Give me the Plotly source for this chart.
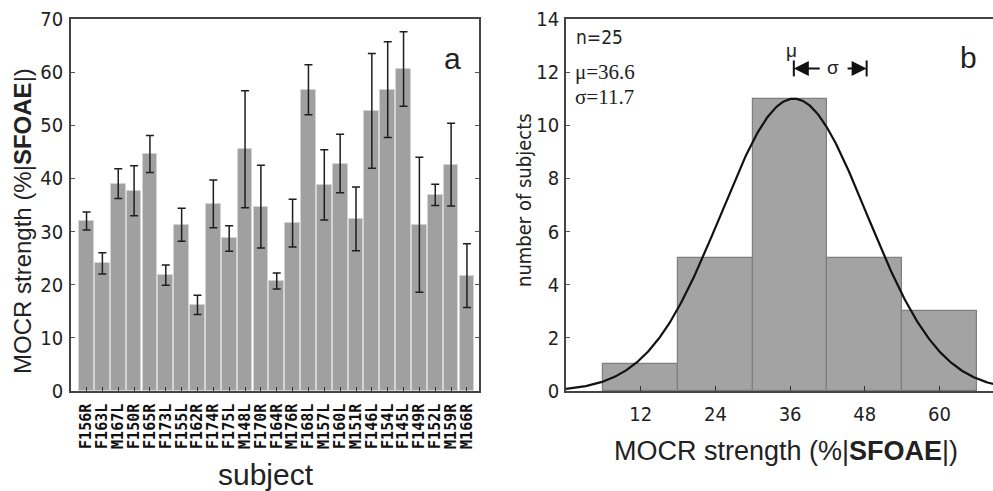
import numpy as np
import plotly.graph_objects as go

# ---- data: panel a ----
subjects = ["F156R", "F163L", "M167L", "F150R", "F165R", "F173L", "F155L", "F162R",
            "F174R", "F175L", "M148L", "F170R", "F164R", "M176R", "F168L", "M157L",
            "F160L", "M151R", "F146L", "F154L", "F145L", "F149R", "F152L", "M159R", "M166R"]
mocr = [32.0, 24.0, 39.0, 37.7, 44.6, 21.8, 31.3, 16.2,
        35.2, 28.7, 45.5, 34.7, 20.7, 31.6, 56.7, 38.8,
        42.8, 32.4, 52.7, 56.7, 60.6, 31.3, 36.9, 42.6, 21.7]
mocr_err = [1.7, 2.0, 2.8, 4.7, 3.5, 1.9, 3.1, 1.8,
            4.5, 2.4, 11.0, 7.8, 1.5, 4.5, 4.7, 6.6,
            5.5, 6.0, 10.8, 9.0, 7.0, 12.7, 2.0, 7.8, 6.0]

# ---- data: panel b ----
bin_centers = [12, 24, 36, 48, 60]
bin_counts = [1, 5, 11, 5, 3]
bin_width = 12
n_subj = 25
mu = 36.6
sigma = 11.7
curve_peak = 11.0

W, H = 993, 491
L_TOP, L_BOT = 19, 391
PH = L_BOT - L_TOP

def px(x):
    return x / W

def py(y):
    return (L_BOT - y) / PH

pos = list(range(len(subjects)))

fig = go.Figure()

fig.add_trace(go.Bar(
    x=pos, y=mocr, width=0.93,
    marker=dict(color="#a0a0a0", line=dict(color="#d4d4d4", width=1)),
    error_y=dict(type="data", array=mocr_err, visible=True,
                 color="#1e1e1e", thickness=1.5, width=4),
    xaxis="x", yaxis="y", showlegend=False))

fig.add_trace(go.Bar(
    x=bin_centers, y=bin_counts, width=bin_width,
    marker=dict(color="#a3a3a3", line=dict(color="#7f7f7f", width=1.2)),
    xaxis="x2", yaxis="y2", showlegend=False))

xc = np.linspace(0, 70, 400)
yc = curve_peak * np.exp(-(xc - mu) ** 2 / (2 * sigma ** 2))
fig.add_trace(go.Scatter(x=xc, y=yc, mode="lines",
                         line=dict(color="#111111", width=2.2),
                         xaxis="x2", yaxis="y2", showlegend=False))

cond = "DejaVu Sans Condensed, Liberation Sans Narrow, DejaVu Sans"
tickfont = dict(family=cond, size=20, color="#222")

fig.update_layout(
    width=W, height=H,
    margin=dict(l=0, r=0, t=L_TOP, b=H - L_BOT),
    paper_bgcolor="white", plot_bgcolor="white",
    bargap=0,
    xaxis=dict(domain=[px(71), px(479)], range=[-0.98, 24.76],
               tickmode="array", tickvals=pos, ticktext=subjects,
               tickangle=-90,
               tickfont=dict(family="DejaVu Sans Mono", size=15, color="#111", weight="bold"),
               ticks="inside", ticklen=4, tickcolor="#333",
               showline=True, linecolor="#444", linewidth=1.5, mirror=True,
               showgrid=False, zeroline=False, automargin=False,
               ticklabelstandoff=5),
    yaxis=dict(domain=[0, 1], range=[0, 70], tickvals=list(range(0, 80, 10)),
               tickfont=tickfont, ticks="inside", ticklen=4, tickcolor="#555",
               showline=True, linecolor="#444", linewidth=1.5, mirror="ticks",
               showgrid=False, zeroline=False, automargin=False,
               ticklabelstandoff=2),
    xaxis2=dict(domain=[px(566), 1.0], range=[0, 68.6], anchor="y2",
                tickvals=bin_centers, tickfont=tickfont,
                ticks="inside", ticklen=5, tickcolor="#333",
                showline=True, linecolor="#444", linewidth=1.5, mirror=True,
                showgrid=False, zeroline=False, automargin=False,
                ticklabelstandoff=4),
    yaxis2=dict(domain=[0, 1], range=[0, 14], anchor="x2",
                tickvals=list(range(0, 16, 2)),
                tickfont=tickfont, ticks="inside", ticklen=4, tickcolor="#555",
                showline=True, linecolor="#444", linewidth=1.5, mirror=True,
                showgrid=False, zeroline=False, automargin=False,
                ticklabelstandoff=1),
)

ann = []
sans = "Liberation Sans, Arial, sans-serif"
serif = "Liberation Serif, Times New Roman, serif"

def pann(text, x, y, size, family=sans, angle=0, xanchor="center"):
    ann.append(dict(text=text, x=px(x), y=py(y), xref="paper", yref="paper",
                    xanchor=xanchor, yanchor="middle", textangle=angle, showarrow=False,
                    font=dict(family=family, size=size, color="#222")))

pann("MOCR strength (%|<b>SFOAE</b>|)", 22, 221, 24, angle=-90)
pann("subject", 266, 474, 30)
pann("a", 452, 58, 30)
pann("b", 968, 57, 30)
pann("number of subjects", 524, 200, 20, family=cond, angle=-90)
pann("MOCR strength (%|<b>SFOAE</b>|)", 786, 451, 27)
pann(f"n={n_subj}", 574, 37, 19, family=cond, xanchor="left")
pann(f"μ={mu}", 573, 72, 21, family=serif, xanchor="left")
pann(f"σ={sigma}", 573, 97, 21, family=serif, xanchor="left")

ya = 12.14
sig_x = 42.9
ann.append(dict(text="μ", x=mu - 0.3, y=12.8, xref="x2", yref="y2", showarrow=False,
                font=dict(family=sans, size=19, color="#222")))
ann.append(dict(text="σ", x=sig_x, y=ya + 0.05, xref="x2", yref="y2", showarrow=False,
                font=dict(family=sans, size=19, color="#222")))
ann.append(dict(text="", x=mu, y=ya, ax=sig_x - 1.9, ay=ya, xref="x2", yref="y2", axref="x2", ayref="y2",
                showarrow=True, arrowhead=2, arrowsize=1.5, arrowwidth=2, arrowcolor="#111", standoff=0))
ann.append(dict(text="", x=mu + sigma, y=ya, ax=sig_x + 2.1, ay=ya, xref="x2", yref="y2", axref="x2", ayref="y2",
                showarrow=True, arrowhead=2, arrowsize=1.5, arrowwidth=2, arrowcolor="#111", standoff=0))
fig.update_layout(annotations=ann)

shapes = []
for xv in [mu, mu + sigma]:
    shapes.append(dict(type="line", x0=xv, x1=xv, y0=ya - 0.3, y1=ya + 0.3, xref="x2", yref="y2",
                       line=dict(color="#111", width=2)))
fig.update_layout(shapes=shapes)

fig.write_html("out.html", config={"displayModeBar": False},
               post_script="document.body.style.margin='0';document.body.style.overflow='hidden';")
